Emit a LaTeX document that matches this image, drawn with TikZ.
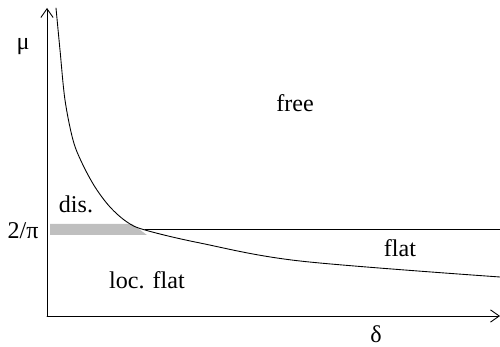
\documentclass[tikz,border=0pt]{standalone}
\usepackage{fontspec}
\setmainfont{Liberation Serif}
\usetikzlibrary{arrows.meta}
\begin{document}
\begin{tikzpicture}[x=0.02cm,y=-0.02cm,>={Straight Barb[length=5pt,width=7pt]},line join=round,line cap=round,font=\fontsize{13.7}{16}\selectfont]
\useasboundingbox (0,0) rectangle (500,347);
\path
(47,316) coordinate (O)
(47,8) coordinate (Y)
(500,316) coordinate (X)
(145,229) coordinate (K)
(500,229) coordinate (E);
% grey strip
\fill[gray!50] (50,224) -- (132,224) -- (147,235) -- (50,235) -- cycle;
% axes
\draw[line width=0.5pt,->] (O) -- (Y);
\draw[line width=0.5pt,->] (O) -- (X);
% boundaries
\draw[line width=0.5pt] (K) -- (E);
\draw[line width=0.5pt] plot[smooth,tension=0.55] coordinates {(56,8) (60,50) (65,100) (73,140) (82,163) (95,187) (110,207) (127,222) (145,230) (200,243) (300,261) (500,277)};
% labels
\node (mu) at (23,47) {μ};
\node (delta) at (376,334) {δ};
\node (twopi) at (23,231) {2/π};
\node (free) at (295,103) {free};
\node (dis) at (76,204) {dis.};
\node (flat) at (400,248) {flat};
\node (locflat) at (147,280) {loc. flat};
\end{tikzpicture}
\end{document}
